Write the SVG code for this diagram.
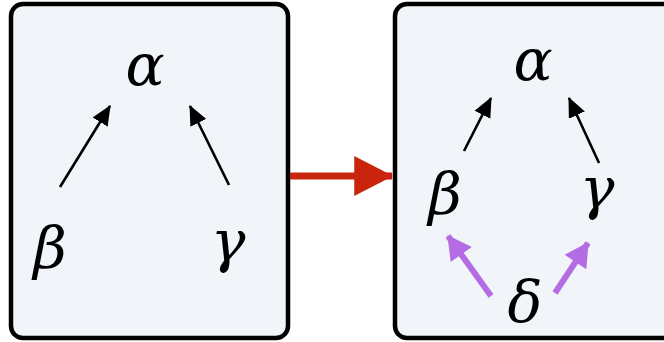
<svg xmlns="http://www.w3.org/2000/svg" width="664" height="342" viewBox="0 0 664 342">
<style>
.box{fill:#f1f5f9;stroke:#000;stroke-width:4.5}
.sym{font-family:"DejaVu Serif",serif;font-style:italic;font-size:58px;fill:#000;text-anchor:middle}
.blk{stroke:#000;stroke-width:2.6;fill:none}
.pur{stroke:#b46ce3;stroke-width:6;fill:none}
.red{stroke:#c9250c;stroke-width:7;fill:none}
</style>
<defs>
<marker id="hb" markerUnits="userSpaceOnUse" markerWidth="20" markerHeight="20" viewBox="0 0 17 15" refX="16" refY="7.5" orient="auto"><path d="M0,0 L17,7.5 L0,15 Z" fill="#000"/></marker>
<marker id="hp" markerUnits="userSpaceOnUse" markerWidth="26" markerHeight="26" viewBox="0 0 22 24" refX="21" refY="12" orient="auto"><path d="M0,0 L22,12 L0,24 Z" fill="#b46ce3"/></marker>
<marker id="hr" markerUnits="userSpaceOnUse" markerWidth="40" markerHeight="40" viewBox="0 0 35 36" refX="34" refY="18" orient="auto"><path d="M0,0 L35,18 L0,36 Z" fill="#c9250c"/></marker>
</defs>
<g id="left-box"><rect class="box" x="11" y="4" width="277" height="334" rx="12"/></g>
<g id="right-box"><rect class="box" x="395" y="4" width="290" height="334" rx="12"/></g>
<g id="nodes">
<g id="l-alpha"><text class="sym" x="145" y="85">α</text></g>
<g id="l-beta"><text class="sym" x="50" y="268">β</text></g>
<g id="l-gamma"><text class="sym" x="228" y="261">γ</text></g>
<g id="r-alpha"><text class="sym" x="533" y="80">α</text></g>
<g id="r-beta"><text class="sym" x="445" y="214">β</text></g>
<g id="r-gamma"><text class="sym" x="597" y="208">γ</text></g>
<g id="r-delta"><text class="sym" x="525" y="322">δ</text></g>
</g>
<g id="connectors">
<line class="blk" x1="60" y1="187" x2="110" y2="106" marker-end="url(#hb)"/>
<line class="blk" x1="229" y1="185" x2="190" y2="106" marker-end="url(#hb)"/>
<line class="blk" x1="464" y1="151" x2="491" y2="98" marker-end="url(#hb)"/>
<line class="blk" x1="599" y1="163" x2="569" y2="98" marker-end="url(#hb)"/>
<line class="pur" x1="491" y1="296" x2="448" y2="236" marker-end="url(#hp)"/>
<line class="pur" x1="555" y1="293" x2="588" y2="243" marker-end="url(#hp)"/>
<line class="red" x1="290" y1="176" x2="392" y2="176" marker-end="url(#hr)"/>
</g>
</svg>
